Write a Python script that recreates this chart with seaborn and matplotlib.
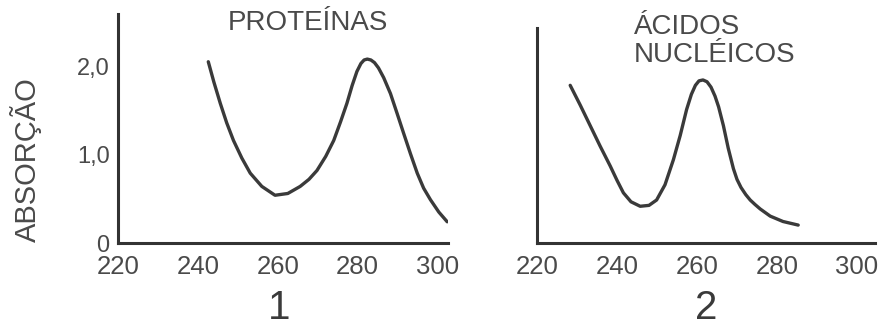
import matplotlib
matplotlib.use("Agg")
import matplotlib.pyplot as plt
import seaborn as sns
import pandas as pd

# absorption spectra
prot_wl = [242.6, 244.0, 245.6, 247.2, 248.9, 251.0, 253.1, 256.0, 259.3, 262.5,
           265.6, 267.8, 269.8, 272.0, 274.0, 275.7, 277.3, 278.6, 279.8, 280.8,
           281.6, 282.4, 283.3, 284.2, 285.2, 286.5, 288.2, 289.9, 291.5, 293.2,
           294.9, 296.5, 298.2, 300.3, 302.4]
prot_abs = [2.05, 1.82, 1.58, 1.36, 1.16, 0.96, 0.79, 0.64, 0.54, 0.56,
            0.64, 0.72, 0.82, 0.98, 1.16, 1.37, 1.58, 1.78, 1.94, 2.03,
            2.07, 2.08, 2.07, 2.04, 1.98, 1.87, 1.69, 1.46, 1.24, 1.01,
            0.79, 0.62, 0.49, 0.35, 0.24]

nuc_wl = [228.3, 230.8, 233.3, 235.8, 238.3, 240.0, 241.6, 243.5, 245.8, 248.0,
          249.9, 252.0, 254.1, 255.8, 257.4, 258.6, 259.6, 260.5, 261.5, 262.5,
          263.5, 264.5, 265.4, 266.6, 267.8, 269.1, 270.0, 271.0, 272.2, 273.3,
          274.5, 275.8, 278.3, 281.5, 285.3]
nuc_abs = [1.76, 1.54, 1.31, 1.08, 0.86, 0.70, 0.56, 0.46, 0.41, 0.42,
           0.48, 0.65, 0.93, 1.20, 1.49, 1.66, 1.76, 1.81, 1.82, 1.80,
           1.74, 1.64, 1.52, 1.31, 1.06, 0.83, 0.71, 0.62, 0.54, 0.48,
           0.43, 0.38, 0.30, 0.24, 0.20]

x_ticks = [220, 240, 260, 280, 300]
y_ticks = [0, 1.0, 2.0]
y_ticklabels = ["0", "1,0", "2,0"]

sns.set_style("white")
plt.rcParams["font.family"] = ["Liberation Sans", "DejaVu Sans"]

ink = "#333333"
txt = "#4a4a4a"

fig = plt.figure(figsize=(8.85, 3.28), dpi=100)
ax1 = fig.add_axes([118 / 885, 85 / 328, 330 / 885, 229 / 328])
ax2 = fig.add_axes([537 / 885, 85 / 328, 338 / 885, 215 / 328])

df1 = pd.DataFrame({"wl": prot_wl, "abs": prot_abs})
df2 = pd.DataFrame({"wl": nuc_wl, "abs": nuc_abs})

for ax, df in [(ax1, df1), (ax2, df2)]:
    sns.lineplot(data=df, x="wl", y="abs", ax=ax, color="#3a3a3a", lw=2.4,
                 sort=False, solid_capstyle="round", solid_joinstyle="round")
    sns.despine(ax=ax)
    for s in ["left", "bottom"]:
        ax.spines[s].set_color(ink)
        ax.spines[s].set_linewidth(2.2)
    ax.set_xticks(x_ticks)
    ax.tick_params(axis="x", direction="in", length=11, width=1.6, color=ink,
                   labelsize=18.5, labelcolor=txt, pad=9)
    ax.tick_params(axis="y", direction="in", length=12, width=1.6, color=ink,
                   labelsize=17, labelcolor=txt, pad=6)
    ax.set_xlabel("")
    ax.set_ylabel("")
    ax.set_facecolor("white")

ax1.set_xlim(220, 302.6)
ax1.set_ylim(0, 2.59)
ax1.set_yticks(y_ticks)
ax1.set_yticklabels(y_ticklabels)

ax2.set_xlim(220, 304.5)
ax2.set_ylim(0, 2.40)
ax2.set_yticks([1.0, 2.0])
ax2.set_yticklabels(["", ""])

fig.text(26 / 885, 1 - 160 / 328, "ABSORÇÃO", rotation=90, ha="center",
         va="center", fontsize=21, color=txt)
fig.text(308 / 885, 1 - 23 / 328, "PROTEÍNAS", ha="center", va="center",
         fontsize=20, color=txt)
fig.text(634 / 885, 1 - 41 / 328, "ÁCIDOS\nNUCLÉICOS", ha="left",
         va="center", fontsize=20, color=txt, linespacing=1.15)
fig.text(279 / 885, 1 - 308 / 328, "1", ha="center", va="center",
         fontsize=29, color="#3a3a3a")
fig.text(706 / 885, 1 - 308 / 328, "2", ha="center", va="center",
         fontsize=29, color="#3a3a3a")

fig.savefig("out.png", dpi=100, facecolor="white")
